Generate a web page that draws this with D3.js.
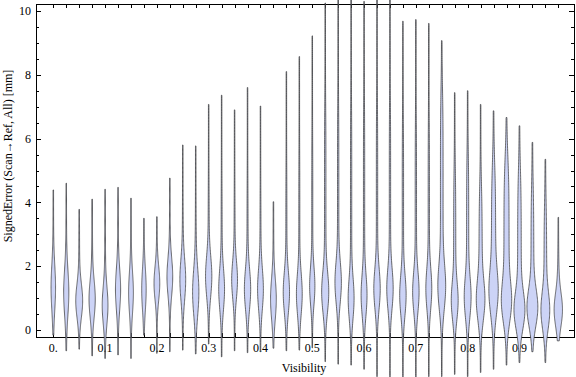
<!DOCTYPE html>
<html>
<head>
<meta charset="utf-8">
<script src="https://cdn.jsdelivr.net/npm/d3@7"></script>
<style>
  body { margin: 0; background: #fff; }
  svg { display: block; font-family: "Liberation Serif", "Times New Roman", serif; }
</style>
</head>
<body>
<div id="chart"></div>
<script>
// visibility bins (one violin each)
const visibility = [0, 0.025, 0.05, 0.075, 0.1, 0.125, 0.15, 0.175, 0.2, 0.225,
  0.25, 0.275, 0.3, 0.325, 0.35, 0.375, 0.4, 0.425, 0.45, 0.475,
  0.5, 0.525, 0.55, 0.575, 0.6, 0.625, 0.65, 0.675, 0.7, 0.725,
  0.75, 0.775, 0.8, 0.825, 0.85, 0.875, 0.9, 0.925, 0.95, 0.975];

// min / max of each distribution [mm]
const lows = [-0.16, -0.65, -0.6, -0.81, -0.89, -0.78, -0.89, -0.16, -0.73, -0.68,
  -0.63, -0.75, -0.44, -0.84, -0.65, -0.71, -0.68, -0.57, -0.65, -0.63,
  -0.56, -0.99, -1.07, -1.1, -1.23, -1.46, -1.5, -1.5, -1.5, -1.46,
  -1.46, -1.39, -1.46, -1.33, -1.23, -1.1, -1.02, -0.68, -1.02, -0.34];
const highs = [4.39, 4.6, 3.78, 4.1, 4.41, 4.47, 4.13, 3.5, 3.55, 4.76,
  5.8, 5.77, 7.07, 7.36, 6.9, 7.6, 7.02, 4.02, 8.1, 8.57,
  9.22, 10.25, 10.5, 10.5, 10.3, 10.5, 10.5, 9.68, 9.73, 9.61,
  9.07, 7.44, 7.5, 7.07, 6.87, 6.66, 6.4, 5.88, 5.35, 3.53];

// density shape: mode, spread of the bulk, relative peak density
const modes = [1.3, 1.15, 0.9, 0.95, 0.75, 1.25, 1.15, 1.25, 1.45, 1.65,
  1.55, 1.15, 1.65, 1.25, 1.55, 1.25, 1.25, 0.95, 1.15, 1.1,
  1.35, 1.15, 1.45, 0.95, 1.05, 1.25, 1.25, 1.05, 1.15, 1.25,
  1.25, 0.85, 0.95, 0.85, 1.05, 0.75, 0.55, 0.65, 0.55, 0.6];
const spreads = [0.7, 0.7, 0.52, 0.58, 0.58, 0.63, 0.63, 0.63, 0.52, 0.58,
  0.63, 0.7, 0.63, 0.63, 0.58, 0.63, 0.63, 0.63, 0.63, 0.63,
  0.58, 0.63, 0.63, 0.63, 0.63, 0.63, 0.63, 0.63, 0.63, 0.63,
  0.7, 0.58, 0.63, 0.63, 0.7, 0.63, 0.58, 0.58, 0.58, 0.52];
const peaks = [0.42, 0.49, 0.67, 0.6, 0.55, 0.49, 0.45, 0.42, 0.55, 0.55,
  0.55, 0.6, 0.6, 0.55, 0.55, 0.6, 0.55, 0.55, 0.6, 0.55,
  0.49, 0.67, 0.6, 0.55, 0.55, 0.6, 0.6, 0.6, 0.6, 0.55,
  0.67, 0.6, 0.6, 0.73, 0.73, 0.78, 0.96, 1.0, 0.78, 0.78];
// upper body (shoulder) relative to peak, and where it fades out
const shoulders = [0.08, 0.08, 0.08, 0.08, 0.08, 0.08, 0.08, 0.08, 0.08, 0.08,
  0.1, 0.1, 0.1, 0.1, 0.1, 0.1, 0.1, 0.08, 0.1, 0.1,
  0.12, 0.15, 0.15, 0.15, 0.15, 0.15, 0.15, 0.15, 0.15, 0.15,
  0.35, 0.3, 0.3, 0.4, 0.55, 0.65, 0.35, 0.25, 0.3, 0.2];
const shoulderTops = [3, 3, 2.8, 3, 3, 3, 3, 2.6, 2.6, 3.2,
  3.5, 3.5, 4.5, 4.5, 4.2, 4.5, 4.2, 2.8, 5, 5.5,
  6, 7, 7, 7, 7, 7, 7, 6.5, 6.5, 6.5,
  7.5, 5, 5.5, 4.5, 5.2, 5.4, 5, 4.5, 4, 2];

const yTicks = [0, 2, 4, 6, 8, 10];
const xTicks = [0, 0.1, 0.2, 0.3, 0.4, 0.5, 0.6, 0.7, 0.8, 0.9];
const xTickLabels = ['0.', '0.1', '0.2', '0.3', '0.4', '0.5', '0.6', '0.7', '0.8', '0.9'];

const width = 576;
const height = 377;
const frame = { left: 36, right: 575, top: 4, bottom: 337 };

const svg = d3.select('#chart')
  .append('svg')
  .attr('width', width)
  .attr('height', height);

const x = d3.scaleLinear().domain([0, 0.975]).range([53.3, 558.3]);
const y = d3.scaleLinear().domain([0, 10]).range([330, 11]);
const w = d3.scaleLinear().domain([0, 1]).range([0, 4.6]);

// frame
svg.append('rect')
  .attr('x', frame.left + 0.5)
  .attr('y', frame.top + 0.5)
  .attr('width', frame.right - frame.left - 1)
  .attr('height', frame.bottom - frame.top)
  .attr('fill', 'none')
  .attr('stroke', '#000')
  .attr('stroke-width', 1);

// y ticks (left and right), minor every 0.5
const yAll = y.ticks(20);
const tickG = svg.append('g').attr('stroke', '#000').attr('stroke-width', 1);
yAll.forEach((v) => {
  const len = v % 2 === 0 ? 5 : 3;
  const py = Math.round(y(v)) + 0.5;
  tickG.append('line').attr('x1', frame.left).attr('x2', frame.left + len).attr('y1', py).attr('y2', py);
  tickG.append('line').attr('x1', frame.right - 1).attr('x2', frame.right - 1 - len).attr('y1', py).attr('y2', py);
});

// x ticks at each violin, top and bottom
visibility.forEach((v) => {
  const px = Math.round(x(v)) + 0.5;
  tickG.append('line').attr('x1', px).attr('x2', px).attr('y1', frame.bottom).attr('y2', frame.bottom - 4);
  tickG.append('line').attr('x1', px).attr('x2', px).attr('y1', frame.top).attr('y2', frame.top + 4);
});

svg.append('g')
  .selectAll('text')
  .data(yTicks)
  .join('text')
  .attr('x', 31)
  .attr('y', (d) => y(d))
  .attr('dy', '0.35em')
  .attr('text-anchor', 'end')
  .attr('font-size', 12)
  .text((d) => d);

svg.append('g')
  .selectAll('text')
  .data(xTicks)
  .join('text')
  .attr('x', (d) => x(d))
  .attr('y', 352)
  .attr('text-anchor', 'middle')
  .attr('font-size', 12)
  .text((d, i) => xTickLabels[i]);

svg.append('text')
  .attr('x', 304)
  .attr('y', 372)
  .attr('text-anchor', 'middle')
  .attr('font-size', 12)
  .text('Visibility');

svg.append('text')
  .attr('transform', 'translate(12,156) rotate(-90)')
  .attr('text-anchor', 'middle')
  .attr('font-size', 12)
  .text('SignedError (Scan\u2192Ref, All) [mm]');

// violin outlines
const sig = (t) => 1 / (1 + Math.exp(-t));
function profile(i) {
  const lo = lows[i], hi = highs[i];
  const pts = [];
  const n = 160;
  for (let k = 0; k <= n; k++) {
    const v = lo + (hi - lo) * k / n;
    const z = (v - modes[i]) / spreads[i];
    const g = Math.exp(-0.5 * z * z);
    const s = shoulders[i] * sig((v - modes[i]) / 0.3) * sig((shoulderTops[i] - v) / 0.5);
    pts.push({ v, d: peaks[i] * (g + s) });
  }
  return pts;
}

const area = d3.area()
  .curve(d3.curveBasis)
  .y((p) => y(p.v));

const violins = svg.append('g');
visibility.forEach((vis, i) => {
  const cx = x(vis);
  violins.append('path')
    .datum(profile(i))
    .attr('d', area.x0((p) => cx - w(p.d) - 0.25).x1((p) => cx + w(p.d) + 0.25))
    .attr('fill', '#ccd3f6')
    .attr('stroke', '#333')
    .attr('stroke-opacity', 0.8)
    .attr('stroke-width', 0.9);
});
</script>
</body>
</html>
